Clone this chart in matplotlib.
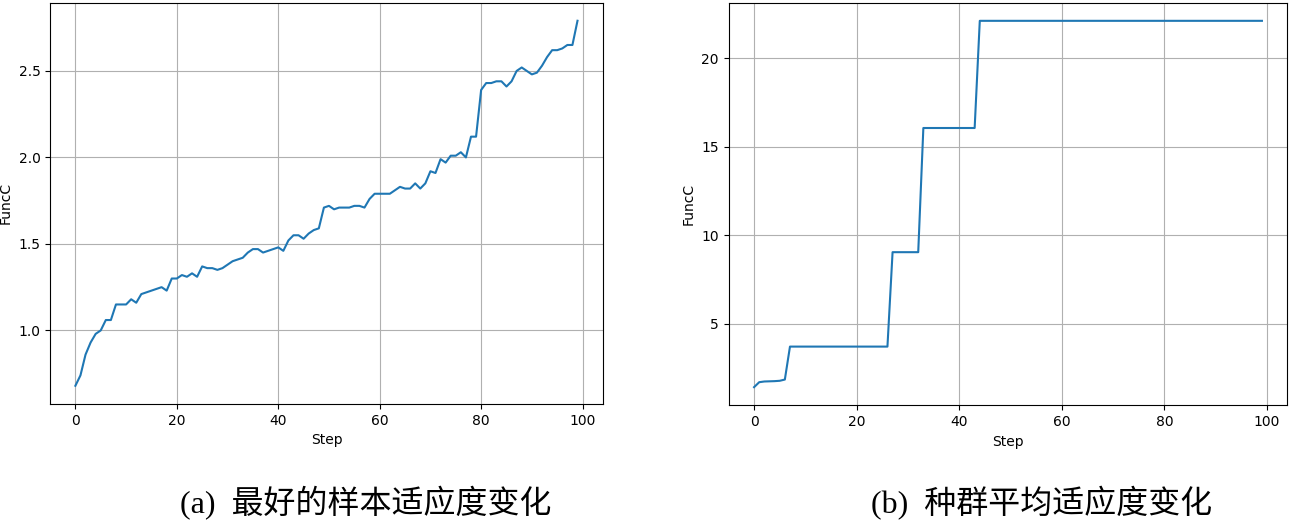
import numpy as np
import matplotlib
matplotlib.use('Agg')
import matplotlib.pyplot as plt

# лучший образец по шагам
best_fitness = [
    0.68, 0.74, 0.86, 0.93, 0.98, 1.00, 1.06, 1.06, 1.15, 1.15,
    1.15, 1.18, 1.16, 1.21, 1.22, 1.23, 1.24, 1.25, 1.23, 1.30,
    1.30, 1.32, 1.31, 1.33, 1.31, 1.37, 1.36, 1.36, 1.35, 1.36,
    1.38, 1.40, 1.41, 1.42, 1.45, 1.47, 1.47, 1.45, 1.46, 1.47,
    1.48, 1.46, 1.52, 1.55, 1.55, 1.53, 1.56, 1.58, 1.59, 1.71,
    1.72, 1.70, 1.71, 1.71, 1.71, 1.72, 1.72, 1.71, 1.76, 1.79,
    1.79, 1.79, 1.79, 1.81, 1.83, 1.82, 1.82, 1.85, 1.82, 1.85,
    1.92, 1.91, 1.99, 1.97, 2.01, 2.01, 2.03, 2.00, 2.12, 2.12,
    2.39, 2.43, 2.43, 2.44, 2.44, 2.41, 2.44, 2.50, 2.52, 2.50,
    2.48, 2.49, 2.53, 2.58, 2.62, 2.62, 2.63, 2.65, 2.65, 2.79,
]

# средняя приспособленность популяции
mean_fitness = (
    [1.42, 1.70, 1.74, 1.75, 1.76, 1.78, 1.85]
    + [3.71] * 20
    + [9.04] * 6
    + [16.05] * 11
    + [22.1] * 56
)

captions = ['(a)  最好的样本适应度变化', '(b)  种群平均适应度变化']


def draw_panel(ax, values):
    """Рисует одну панель: FuncC от Step."""
    ax.plot(np.arange(len(values)), values, color='#1f77b4', linewidth=1.5)
    ax.set_xlabel('Step')
    ax.set_ylabel('FuncC')
    ax.set_xticks([0, 20, 40, 60, 80, 100])
    ax.grid(True)


def main():
    fig = plt.figure(figsize=(12.89, 5.23), dpi=100)
    ax1 = fig.add_axes([0.039, 0.2275, 0.4285, 0.7677])
    ax2 = fig.add_axes([0.5653, 0.2247, 0.4334, 0.7705])

    draw_panel(ax1, best_fitness)
    draw_panel(ax2, mean_fitness)
    ax2.set_yticks([5, 10, 15, 20])

    fam = ['Liberation Serif', 'Noto Sans CJK SC']
    fig.text(0.2835, 0.038, captions[0], ha='center', va='center',
             fontsize=23, family=fam)
    fig.text(0.808, 0.038, captions[1], ha='center', va='center',
             fontsize=23, family=fam)

    fig.savefig('out.png', dpi=100)


if __name__ == "__main__":
    main()
